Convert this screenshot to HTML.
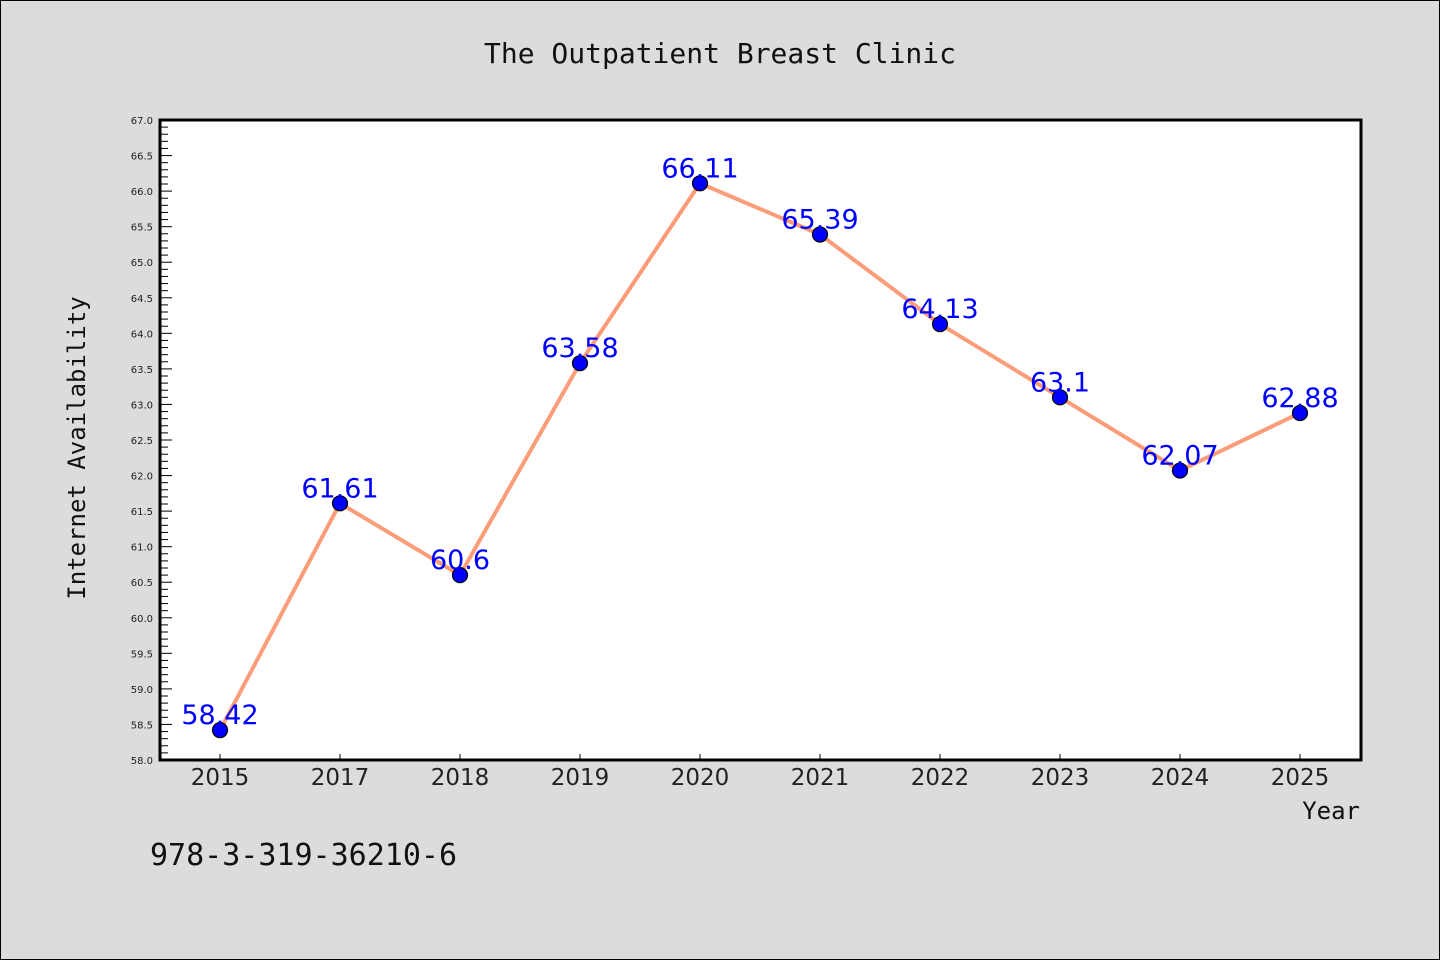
<!DOCTYPE html>
<html><head><meta charset="utf-8"><style>
html,body{margin:0;padding:0;background:#dcdcdc;}
svg{display:block;}
</style></head><body>
<svg id="chart" width="1440" height="960" xmlns="http://www.w3.org/2000/svg">
<rect x="0.5" y="0.5" width="1439" height="959" fill="#dcdcdc" stroke="#000" stroke-width="1"/>
<text x="720" y="63" text-anchor="middle" font-family="DejaVu Sans Mono, Liberation Mono, monospace" font-size="28" fill="#111">The Outpatient Breast Clinic</text>
<rect x="160" y="120" width="1201" height="640" fill="#fff"/>
<g id="axes"></g>
<g id="series"></g>
<text x="85" y="448" text-anchor="middle" transform="rotate(-90 85 448)" font-family="DejaVu Sans Mono, Liberation Mono, monospace" font-size="24" fill="#111">Internet Availability</text>
<text x="1360" y="819" text-anchor="end" font-family="DejaVu Sans Mono, Liberation Mono, monospace" font-size="24" fill="#111">Year</text>
<text x="150" y="865" font-family="DejaVu Sans Mono, Liberation Mono, monospace" font-size="30" fill="#111">978-3-319-36210-6</text>
</svg>
<script>
const categories = ["2015","2017","2018","2019","2020","2021","2022","2023","2024","2025"];
const values = [58.42,61.61,60.6,63.58,66.11,65.39,64.13,63.1,62.07,62.88];
const valueLabels = ["58.42","61.61","60.6","63.58","66.11","65.39","64.13","63.1","62.07","62.88"];
const yMin = 58, yMax = 67;
const yTickLabels = ["58.0","58.5","59.0","59.5","60.0","60.5","61.0","61.5","62.0","62.5","63.0","63.5","64.0","64.5","65.0","65.5","66.0","66.5","67.0"];

const NS = "http://www.w3.org/2000/svg";
const L = 160, R = 1361, T = 120, B = 760;
const x = i => 220 + i * 120;
const y = v => B - (v - yMin) / (yMax - yMin) * (B - T);
function mk(tag, attrs, parent){const e=document.createElementNS(NS,tag);for(const k in attrs)e.setAttribute(k,attrs[k]);parent.appendChild(e);return e;}
const axes = document.getElementById('axes');
const series = document.getElementById('series');

// minor ticks
for (let k = 0; k <= Math.round((yMax - yMin) * 10); k++) {
  const v = yMin + k / 10;
  const major = k % 5 === 0;
  const t = mk('line', {x1:L, x2:L + (major ? 12 : 8), y1:y(v), y2:y(v), stroke:'#000', 'stroke-width':1}, axes);
  
  
}
yTickLabels.forEach(lbl => {
  const t = mk('text', {x:153, y:y(parseFloat(lbl)) + 4, 'text-anchor':'end', 'font-family':'DejaVu Sans, Liberation Sans, sans-serif', 'font-size':10, fill:'#222'}, axes);
  t.textContent = lbl;
  
  
});
categories.forEach((c, i) => {
  const tk = mk('line', {x1:x(i), x2:x(i), y1:B, y2:B - 6, stroke:'#000', 'stroke-width':1}, axes);
  
  
  const t = mk('text', {x:x(i), y:785, 'text-anchor':'middle', 'font-family':'DejaVu Sans, Liberation Sans, sans-serif', 'font-size':23, fill:'#222'}, axes);
  t.textContent = c;
  
  
});
const frame = mk('path', {d:`M${L} ${T} H${R} V${B} H${L} Z`, fill:'none', stroke:'#000', 'stroke-width':3}, axes);



const line = mk('polyline', {points: values.map((v,i)=>`${x(i)},${y(v)}`).join(' '), fill:'none', stroke:'#fa9d78', 'stroke-width':4, 'stroke-linejoin':'round'}, series);


values.forEach((v, i) => {
  const c = mk('circle', {cx:x(i), cy:y(v), r:7.5, fill:'#0000ff', stroke:'#000', 'stroke-width':1.2}, series);
  
  
});
values.forEach((v, i) => {
  const t = mk('text', {x:x(i), y:y(v) - 6, 'text-anchor':'middle', 'font-family':'DejaVu Sans, Liberation Sans, sans-serif', 'font-size':27, fill:'#0000ff'}, series);
  t.textContent = valueLabels[i];
  
  
});
</script>
</body></html>
